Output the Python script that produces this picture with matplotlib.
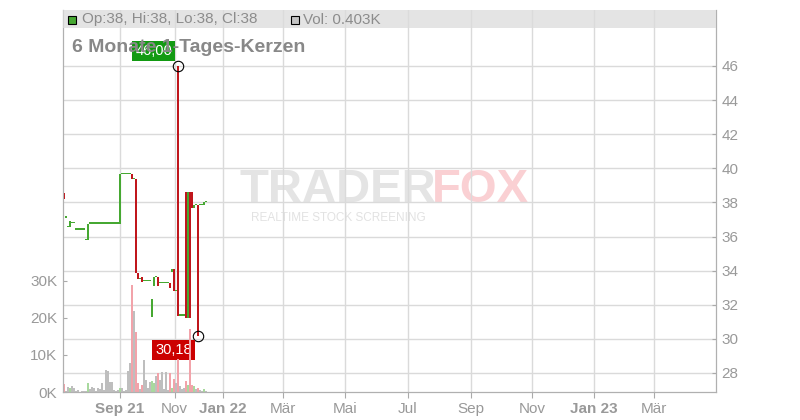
import matplotlib
matplotlib.use('Agg')
import matplotlib.pyplot as plt
from matplotlib.patches import Rectangle

plt.rcParams['font.family'] = ['Liberation Sans', 'DejaVu Sans']

# daily candles (trading days only, ordinal x axis)
opens = [38.55, 37.1, 36.55, 36.55, 36.8, 36.8, 36.4, 36.4, 36.4, 36.4,
         36.4, 35.8, 35.8, 36.75, 36.75, 36.75, 36.75, 36.75, 36.75, 36.75,
         36.75, 36.75, 36.75, 36.75, 36.75, 36.75, 36.75, 36.75, 36.75, 39.65,
         39.65, 39.65, 39.65, 39.65, 39.65, 39.35, 39.35, 33.84, 33.5, 33.6,
         33.4, 33.4, 33.4, 33.4, 31.3, 33.1, 33.6, 33.6, 33.25, 33.25,
         33.25, 33.25, 33.25, 33.25, 33.95, 34.1, 32.8, 46.0, 31.35, 31.35,
         31.35, 38.6, 31.2, 38.6, 38.6, 37.65, 37.85, 37.85, 37.85, 37.85,
         37.85, 38.0]
closes = [38.2, 37.1, 36.55, 36.9, 36.8, 36.8, 36.4, 36.4, 36.4, 36.4,
          36.4, 35.8, 36.75, 36.75, 36.75, 36.75, 36.75, 36.75, 36.75, 36.75,
          36.75, 36.75, 36.75, 36.75, 36.75, 36.75, 36.75, 36.75, 39.65, 39.65,
          39.65, 39.65, 39.65, 39.65, 39.35, 39.35, 33.84, 33.5, 33.5, 33.35,
          33.4, 33.4, 33.4, 33.4, 32.35, 33.6, 33.6, 33.1, 33.25, 33.25,
          33.25, 33.25, 33.25, 33.0, 34.1, 32.8, 32.8, 31.35, 31.35, 31.35,
          31.35, 31.2, 38.6, 31.2, 37.65, 37.85, 37.85, 30.18, 37.85, 37.85,
          38.0, 38.0]
volume_k = [2.2, 0.3, 1.4, 1.1, 1.6, 1.0, 0.2, 0.5, 0.1, 0.2,
            0.3, 0.2, 2.3, 0.7, 1.3, 1.1, 0.3, 1.2, 0.7, 2.3,
            0.5, 5.9, 5.7, 2.7, 2.7, 0.5, 0.3, 0.5, 1.0, 1.1,
            0.4, 0.5, 5.7, 7.8, 28.9, 21.9, 16.2, 2.5, 0.8, 1.8,
            8.6, 3.2, 1.0, 2.8, 3.0, 2.4, 4.3, 5.1, 3.2, 5.5,
            0.8, 5.5, 0.6, 5.1, 1.0, 3.4, 2.5, 9.0, 1.5, 0.8,
            1.2, 3.0, 2.0, 17.0, 2.0, 1.5, 0.8, 1.2, 0.5, 0.3,
            0.8, 0.403]

# month labels (positions on the ordinal axis)
tick_pos = [27.75, 55.25, 79.5, 109.5, 140.5, 172, 203.5, 234, 265, 295]
tick_labels = ['Sep 21', 'Nov', 'Jan 22', 'Mär', 'Mai', 'Jul', 'Sep', 'Nov', 'Jan 23', 'Mär']
bold_labels = ['Sep 21', 'Jan 22', 'Jan 23']
price_ticks = [28, 30, 32, 34, 36, 38, 40, 42, 44, 46]
vol_ticks = [0, 10, 20, 30]

RED = '#c0161c'
GREEN = '#46a832'
GREY_TXT = '#999999'
GRID = '#dadada'

W, H = 800, 420
fig = plt.figure(figsize=(8, 4.2), dpi=100)
ax = fig.add_axes([63 / W, (H - 392) / H, (716 - 63) / W, (392 - 10) / H])
axv = ax.twinx()

idx = list(range(len(opens)))
highs = [max(o, c) for o, c in zip(opens, closes)]
lows = [min(o, c) for o, c in zip(opens, closes)]

# candles
colors = [RED if c < o else GREEN for o, c in zip(opens, closes)]
heights = [max(h - l, 0.08) for h, l in zip(highs, lows)]
ax.bar(idx, heights, bottom=lows, width=0.72, color=colors, linewidth=0, zorder=3)

# volume
vcolors = []
for o, c in zip(opens, closes):
    if c < o:
        vcolors.append('#f2a3aa')
    elif c > o:
        vcolors.append('#a8d99e')
    else:
        vcolors.append('#bebebe')
axv.bar(idx, volume_k, width=0.55, color=vcolors, linewidth=0)

ax.set_xlim(-0.5, 326)
ax.set_ylim(26.886, 49.283)
axv.set_ylim(0, 103.24)

ax.yaxis.tick_right()
ax.set_yticks(price_ticks)
ax.set_yticklabels([str(p) for p in price_ticks])
ax.tick_params(axis='y', direction='in', length=3, color='#aaaaaa', labelcolor=GREY_TXT,
               labelsize=11, pad=4)
axv.yaxis.tick_left()
axv.set_yticks(vol_ticks)
axv.set_yticklabels([f'{v}K' for v in vol_ticks])
axv.tick_params(axis='y', direction='in', length=3, color='#aaaaaa', labelcolor=GREY_TXT,
                labelsize=11, pad=4)

ax.set_xticks(tick_pos)
ax.set_xticklabels(tick_labels)
ax.tick_params(axis='x', direction='out', length=4, color='#aaaaaa', labelcolor=GREY_TXT,
               labelsize=11, pad=3)
for lab in ax.get_xticklabels():
    if lab.get_text() in bold_labels:
        lab.set_fontweight('bold')

ax.set_axisbelow(True)
ax.grid(True, color=GRID, linewidth=1)
for a in (ax, axv):
    a.spines['top'].set_visible(False)
    for s in ('left', 'right', 'bottom'):
        a.spines[s].set_color('#b0b0b0')

# watermark
ax.text(239 / W, 1 - 190 / H, 'TRADER', transform=fig.transFigure, fontsize=34,
        fontweight='bold', color='#e4e4e4', va='center', ha='left', zorder=0.1)
ax.text(432 / W, 1 - 190 / H, 'FOX', transform=fig.transFigure, fontsize=34,
        fontweight='bold', color='#fad0d3', va='center', ha='left', zorder=0.1)
ax.text(251 / W, 1 - 218 / H, 'REALTIME STOCK SCREENING', transform=fig.transFigure,
        fontsize=8.5, color='#e2e2e2', va='center', ha='left', zorder=0.1)

# high / low markers
hi_i = highs.index(max(highs))
lo_i = lows.index(min(lows))
ax.plot(hi_i, highs[hi_i], 'o', mfc='none', mec='black', ms=7.5, mew=0.8, zorder=5)
ax.plot(lo_i, lows[lo_i], 'o', mfc='none', mec='black', ms=7.5, mew=0.8, zorder=5)
ax.annotate(f'{highs[hi_i]:.2f}'.replace('.', ','), xy=(hi_i, highs[hi_i]),
            xytext=(-17.5, 10.8), textcoords='offset points', ha='center', va='center',
            color='white', fontsize=10.5, zorder=6,
            bbox=dict(boxstyle='square,pad=0.2', fc='#129a12', ec='none'))
ax.annotate(f'{lows[lo_i]:.2f}'.replace('.', ','), xy=(lo_i, lows[lo_i]),
            xytext=(-17.5, -10.1), textcoords='offset points', ha='center', va='center',
            color='white', fontsize=10.5, zorder=6,
            bbox=dict(boxstyle='square,pad=0.2', fc='#cc0000', ec='none'))

# header band with last-candle info
axv.add_patch(Rectangle((0, (392 - 28) / 382), 1, 18 / 382, transform=axv.transAxes,
                        facecolor='#dcdcdc', alpha=0.75, edgecolor='none', zorder=10))
fig.add_artist(Rectangle((68 / W, 1 - 24 / H), 8 / W, 8 / H, transform=fig.transFigure,
                         facecolor=GREEN, edgecolor='black', linewidth=0.8))
fig.text(82 / W, 1 - 19.5 / H,
         f'Op:{opens[-1]:g}, Hi:{highs[-1]:g}, Lo:{lows[-1]:g}, Cl:{closes[-1]:g}',
         fontsize=11, color='#8c8c8c', va='center', ha='left')
fig.add_artist(Rectangle((291 / W, 1 - 24 / H), 8 / W, 8 / H, transform=fig.transFigure,
                         facecolor='#c4c4c4', edgecolor='black', linewidth=0.8))
fig.text(303 / W, 1 - 19.5 / H, f'Vol: {volume_k[-1]:.3f}K', fontsize=11,
         color='#8c8c8c', va='center', ha='left')

fig.text(72 / W, 1 - 48 / H, '6 Monate 1-Tages-Kerzen', fontsize=14, fontweight='bold',
         color='#888888', va='center', ha='left')

fig.savefig('out.png', dpi=100)
